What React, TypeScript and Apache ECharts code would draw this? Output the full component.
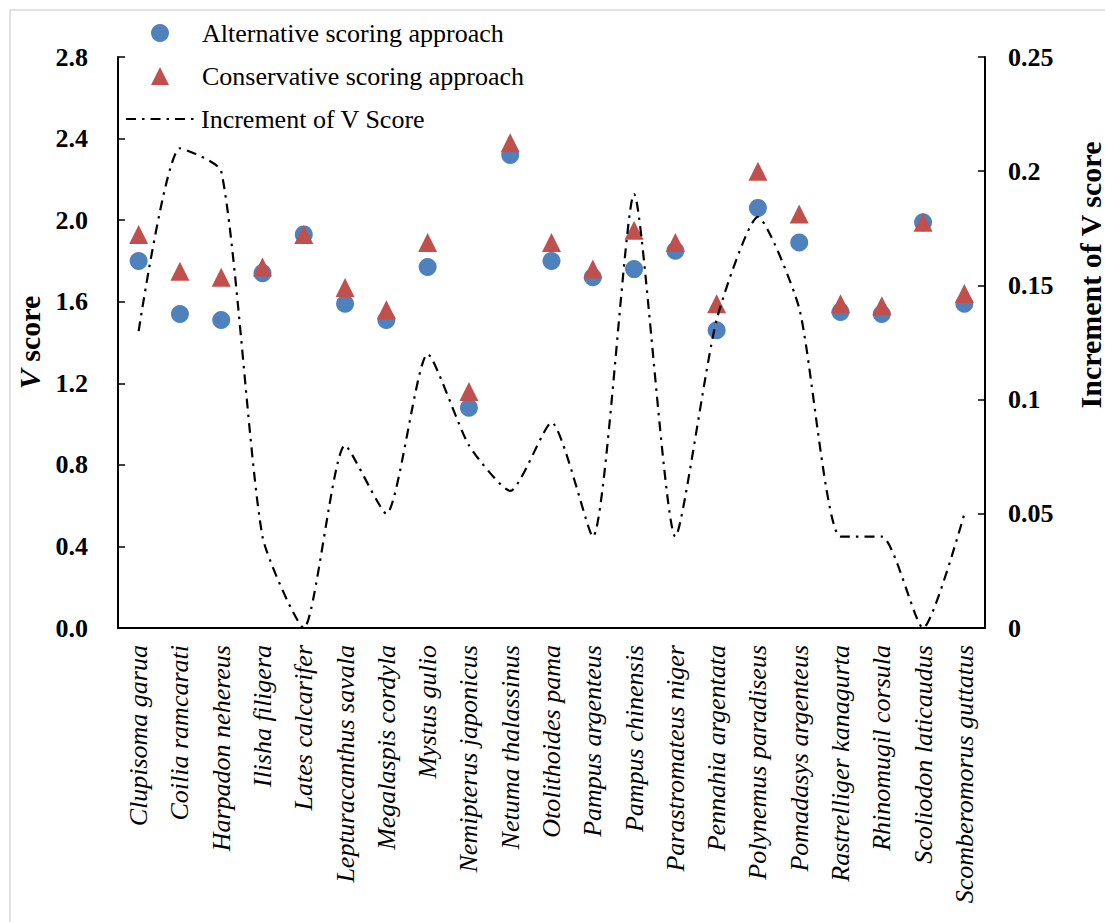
import React, { useEffect, useRef } from "react";
import * as echarts from "echarts";

const species = [
  "Clupisoma garua",
  "Coilia ramcarati",
  "Harpadon nehereus",
  "Ilisha filigera",
  "Lates calcarifer",
  "Lepturacanthus savala",
  "Megalaspis cordyla",
  "Mystus gulio",
  "Nemipterus japonicus",
  "Netuma thalassinus",
  "Otolithoides pama",
  "Pampus argenteus",
  "Pampus chinensis",
  "Parastromateus niger",
  "Pennahia argentata",
  "Polynemus paradiseus",
  "Pomadasys argenteus",
  "Rastrelliger kanagurta",
  "Rhinomugil corsula",
  "Scoliodon laticaudus",
  "Scomberomorus guttatus",
];

const alternativeScore = [
  1.8, 1.54, 1.51, 1.74, 1.93, 1.59, 1.51, 1.77, 1.08, 2.32, 1.8,
  1.72, 1.76, 1.85, 1.46, 2.06, 1.89, 1.55, 1.54, 1.99, 1.59,
];

const conservativeScore = [
  1.93, 1.75, 1.72, 1.77, 1.93, 1.67, 1.56, 1.89, 1.16, 2.38, 1.89,
  1.76, 1.95, 1.89, 1.59, 2.24, 2.03, 1.59, 1.58, 1.99, 1.64,
];

const increment = [
  0.13, 0.21, 0.2, 0.04, 0, 0.08, 0.05, 0.12, 0.08, 0.06, 0.09,
  0.04, 0.19, 0.04, 0.135, 0.18, 0.14, 0.04, 0.04, 0, 0.05,
];

const seriesNames = [
  "Alternative scoring approach",
  "Conservative scoring approach",
  "Increment of V Score",
];

const FONT = "'Liberation Serif', 'Times New Roman', serif";

export default function App() {
  const ref = useRef<HTMLDivElement>(null);

  useEffect(() => {
    document.body.style.margin = "0";
    if (!ref.current) return;
    const chart = echarts.init(ref.current, undefined, { renderer: "svg" });
    const legendText = {
      fontFamily: FONT,
      fontSize: 26,
      lineHeight: 26,
      color: "#000",
    };
    chart.setOption({
      animation: false,
      backgroundColor: "#ffffff",
      grid: { left: 118, right: 120, top: 57, bottom: 294 },
      legend: [
        {
          left: 146,
          top: 15,
          orient: "vertical",
          itemWidth: 18,
          itemHeight: 18,
          itemGap: 17,
          data: [seriesNames[0], seriesNames[1]],
          textStyle: { ...legendText, padding: [0, 0, 0, 28] },
        },
        {
          left: 120,
          top: 15 + 86,
          orient: "vertical",
          itemWidth: 70,
          itemHeight: 18,
          data: [seriesNames[2]],
          itemStyle: { opacity: 0 },
          textStyle: legendText,
        },
      ],
      graphic: [
        {
          type: "rect",
          shape: { x: 10, y: 10, width: 1200, height: 1000 },
          style: { fill: "none", stroke: "#d9d9d9", lineWidth: 1.5 },
          silent: true,
          z: -1,
        },
        {
          type: "text",
          x: 1090,
          y: 275,
          rotation: Math.PI / 2,
          style: {
            text: "Increment of V score",
            fontFamily: FONT,
            fontWeight: "bold",
            fontSize: 30,
            fill: "#000",
            textAlign: "center",
            textVerticalAlign: "middle",
          },
        },
      ],
      xAxis: {
        type: "category",
        data: species,
        boundaryGap: true,
        axisLine: { lineStyle: { color: "#000", width: 2 } },
        axisTick: {
          alignWithLabel: true,
          inside: true,
          length: 7,
          lineStyle: { color: "#000", width: 1.5 },
        },
        axisLabel: {
          rotate: 90,
          interval: 0,
          margin: 17,
          fontFamily: FONT,
          fontStyle: "italic",
          fontSize: 26,
          color: "#000",
        },
      },
      yAxis: [
        {
          type: "value",
          min: 0,
          max: 2.8,
          interval: 0.4,
          position: "left",
          name: "{i|V} score",
          nameLocation: "middle",
          nameGap: 72,
          nameRotate: 90,
          nameTextStyle: {
            fontFamily: FONT,
            fontWeight: "bold",
            fontSize: 30,
            color: "#000",
            rich: {
              i: {
                fontFamily: FONT,
                fontWeight: "bold",
                fontStyle: "italic",
                fontSize: 30,
                color: "#000",
              },
            },
          },
          splitLine: { show: false },
          axisLine: { show: true, lineStyle: { color: "#000", width: 2 } },
          axisTick: {
            show: true,
            inside: true,
            length: 7,
            lineStyle: { color: "#000", width: 1.5 },
          },
          axisLabel: {
            margin: 30,
            fontFamily: FONT,
            fontWeight: "bold",
            fontSize: 26,
            color: "#000",
            formatter: (v: number) => v.toFixed(1),
          },
        },
        {
          type: "value",
          min: 0,
          max: 0.25,
          interval: 0.05,
          position: "right",
          splitLine: { show: false },
          axisLine: { show: true, lineStyle: { color: "#000", width: 2 } },
          axisTick: {
            show: true,
            inside: true,
            length: 7,
            lineStyle: { color: "#000", width: 1.5 },
          },
          axisLabel: {
            margin: 23,
            fontFamily: FONT,
            fontWeight: "bold",
            fontSize: 26,
            color: "#000",
            formatter: (v: number) => String(parseFloat(v.toFixed(2))),
          },
        },
      ],
      series: [
        {
          name: seriesNames[0],
          type: "scatter",
          yAxisIndex: 0,
          data: alternativeScore,
          symbol: "circle",
          symbolSize: 18,
          itemStyle: { color: "#4F81BD", opacity: 1 },
          z: 2,
        },
        {
          name: seriesNames[1],
          type: "scatter",
          yAxisIndex: 0,
          data: conservativeScore,
          symbol: "triangle",
          symbolSize: 19,
          itemStyle: { color: "#C0504D", opacity: 1 },
          z: 3,
        },
        {
          name: seriesNames[2],
          type: "line",
          yAxisIndex: 1,
          data: increment,
          smooth: 0.2,
          symbol: "none",
          showSymbol: false,
          itemStyle: { color: "#000" },
          lineStyle: { color: "#000", width: 2.2, type: [10, 6, 2.5, 6] },
          z: 4,
        },
      ],
    });
    return () => chart.dispose();
  }, []);

  return <div ref={ref} style={{ width: 1105, height: 922 }} />;
}
